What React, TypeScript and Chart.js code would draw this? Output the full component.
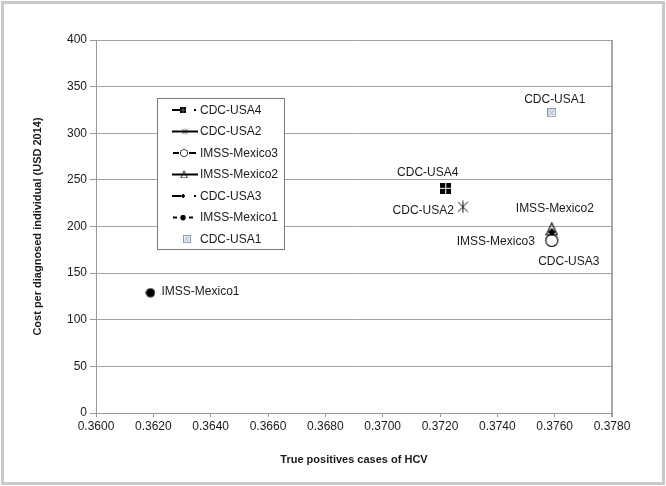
import React, { useEffect, useRef } from "react";
import { Chart, registerables } from "chart.js";

Chart.register(...registerables);

// ---- data ----
const seriesNames = ["CDC-USA4", "CDC-USA2", "IMSS-Mexico3", "IMSS-Mexico2", "CDC-USA3", "IMSS-Mexico1", "CDC-USA1"];
const truePositives = [0.3722, 0.3728, 0.3759, 0.3759, 0.3759, 0.3619, 0.3759];
const costPerDiagnosed = [241, 221, 185, 197, 194, 129, 322];
const xTickValues = [0.36, 0.362, 0.364, 0.366, 0.368, 0.37, 0.372, 0.374, 0.376, 0.378];
const xTickLabels = ["0.3600", "0.3620", "0.3640", "0.3660", "0.3680", "0.3700", "0.3720", "0.3740", "0.3760", "0.3780"];
const yTickValues = [0, 50, 100, 150, 200, 250, 300, 350, 400];
const xTitle = "True positives cases of HCV";
const yTitle = "Cost per diagnosed individual (USD 2014)";

// ---- styling ----
const FONT = "'Liberation Sans', Arial, sans-serif";
const TEXT = "#1a1a1a";
const markerKinds = ["square4", "asterisk", "openCircle", "openTriangle", "diamond", "dot", "hatchSquare"];
const drawOrder = [0, 0, 2, 1, 0, 0, 0];
const labelOffsets: { dx: number; dy: number; align: CanvasTextAlign }[] = [
  { dx: -18, dy: -16, align: "center" },
  { dx: -9, dy: 4, align: "right" },
  { dx: -17, dy: 1, align: "right" },
  { dx: 3, dy: -21, align: "center" },
  { dx: 17, dy: 30, align: "center" },
  { dx: 11, dy: -1, align: "left" },
  { dx: 3, dy: -13, align: "center" },
];

function makeMarker(kind: string): HTMLCanvasElement {
  const c = document.createElement("canvas");
  const ctx = c.getContext("2d")!;
  const setSize = (w: number, h: number) => { c.width = w; c.height = h; };
  switch (kind) {
    case "square4":
      setSize(11, 11);
      ctx.fillStyle = "#000";
      ctx.fillRect(0, 0, 11, 11);
      ctx.fillStyle = "#fff";
      ctx.fillRect(5, 0, 1, 11);
      ctx.fillRect(0, 5, 11, 1);
      break;
    case "asterisk":
      setSize(13, 13);
      ctx.strokeStyle = "#111";
      ctx.lineWidth = 1;
      ctx.beginPath();
      ctx.moveTo(1.5, 1.5); ctx.lineTo(11.5, 11.5);
      ctx.moveTo(11.5, 1.5); ctx.lineTo(1.5, 11.5);
      ctx.moveTo(6.5, 0.5); ctx.lineTo(6.5, 12.5);
      ctx.stroke();
      break;
    case "openCircle":
      setSize(15, 15);
      ctx.fillStyle = "#fff";
      ctx.strokeStyle = "#111";
      ctx.lineWidth = 1.2;
      ctx.beginPath();
      ctx.arc(7.5, 7.5, 6, 0, Math.PI * 2);
      ctx.fill();
      ctx.stroke();
      break;
    case "openTriangle":
      setSize(13, 14);
      ctx.strokeStyle = "#111";
      ctx.lineWidth = 1.2;
      ctx.beginPath();
      ctx.moveTo(6.5, 0.8);
      ctx.lineTo(12, 12.5);
      ctx.lineTo(1, 12.5);
      ctx.closePath();
      ctx.stroke();
      break;
    case "diamond":
      setSize(8, 8);
      ctx.fillStyle = "#000";
      ctx.beginPath();
      ctx.moveTo(4, 0); ctx.lineTo(8, 4); ctx.lineTo(4, 8); ctx.lineTo(0, 4);
      ctx.closePath();
      ctx.fill();
      break;
    case "dot":
      setSize(10, 10);
      ctx.fillStyle = "#000";
      ctx.beginPath();
      ctx.arc(5, 5, 4.6, 0, Math.PI * 2);
      ctx.fill();
      break;
    case "hatchSquare":
    default:
      setSize(9, 9);
      ctx.fillStyle = "#eef2f8";
      ctx.fillRect(0, 0, 9, 9);
      ctx.strokeStyle = "#8799b3";
      ctx.lineWidth = 1;
      ctx.strokeRect(0.5, 0.5, 8, 8);
      ctx.beginPath();
      ctx.moveTo(2, 7); ctx.lineTo(7, 2);
      ctx.moveTo(2, 4); ctx.lineTo(4, 2);
      ctx.moveTo(5, 7); ctx.lineTo(7, 5);
      ctx.stroke();
      break;
  }
  return c;
}

// legend line segments per entry: [x0, x1] relative to legend sample start
const legendSegments: number[][][] = [
  [[0, 9], [22, 24]],
  [[0, 26]],
  [[1, 7], [17, 24]],
  [[0, 26]],
  [[0, 9], [22, 24]],
  [[1, 5], [17, 21]],
  [],
];
const legendMarkerX = [11, 13, 12, 12, 11, 11, 15];

export default function App() {
  const ref = useRef<HTMLCanvasElement>(null);
  useEffect(() => {
    if (!ref.current) return;
    const markers = markerKinds.map(makeMarker);

    const decor = {
      id: "decor",
      beforeDraw(chart: any) {
        const { ctx, width, height } = chart;
        ctx.save();
        ctx.fillStyle = "#fff";
        ctx.fillRect(0, 0, width, height);
        ctx.strokeStyle = "#c9c9c9";
        ctx.lineWidth = 3;
        ctx.strokeRect(2.5, 2.5, width - 5, height - 5);
        ctx.restore();
      },
      afterDatasetsDraw(chart: any) {
        const { ctx, chartArea } = chart;
        ctx.save();
        // right frame of plot area
        ctx.strokeStyle = "#8c8c8c";
        ctx.lineWidth = 1.5;
        ctx.beginPath();
        ctx.moveTo(chartArea.right, chartArea.top);
        ctx.lineTo(chartArea.right, chartArea.bottom + 4);
        ctx.stroke();
        // data labels
        ctx.font = `12px ${FONT}`;
        ctx.fillStyle = TEXT;
        ctx.textBaseline = "middle";
        seriesNames.forEach((name, i) => {
          const el = chart.getDatasetMeta(i).data[0];
          if (!el) return;
          const o = labelOffsets[i];
          ctx.textAlign = o.align;
          ctx.fillText(name, el.x + o.dx, el.y + o.dy);
        });
        ctx.restore();
      },
      afterDraw(chart: any) {
        const { ctx } = chart;
        ctx.save();
        const bx = 157, by = 98, bw = 127, bh = 151;
        ctx.fillStyle = "#fff";
        ctx.fillRect(bx, by, bw, bh);
        ctx.strokeStyle = "#7a7a7a";
        ctx.lineWidth = 1;
        ctx.strokeRect(bx + 0.5, by + 0.5, bw, bh);
        ctx.font = `12px ${FONT}`;
        ctx.textBaseline = "middle";
        ctx.textAlign = "left";
        seriesNames.forEach((name, i) => {
          const cy = 110 + i * 21.5;
          const sx = 172;
          ctx.strokeStyle = "#000";
          ctx.lineWidth = 2;
          legendSegments[i].forEach(([a, b]) => {
            ctx.beginPath();
            ctx.moveTo(sx + a, cy);
            ctx.lineTo(sx + b, cy);
            ctx.stroke();
          });
          const m = markers[i];
          const s = i === 6 ? 0.9 : 0.6;
          const w = m.width * s, h = m.height * s;
          ctx.drawImage(m, sx + legendMarkerX[i] - w / 2, cy - h / 2, w, h);
          ctx.fillStyle = TEXT;
          ctx.fillText(name, 200, cy + 0.5);
        });
        ctx.restore();
      },
    };

    const chart = new Chart(ref.current, {
      type: "scatter",
      data: {
        datasets: seriesNames.map((name, i) => ({
          label: name,
          data: [{ x: truePositives[i], y: costPerDiagnosed[i] }],
          pointStyle: markers[i],
          order: drawOrder[i],
          backgroundColor: "#000",
          borderColor: "#000",
        })),
      },
      options: {
        responsive: false,
        animation: false,
        events: [],
        layout: { padding: { left: 0, top: 40, right: 54, bottom: 0 } },
        plugins: { legend: { display: false }, tooltip: { enabled: false } },
        scales: {
          x: {
            type: "linear",
            min: 0.36,
            max: 0.378,
            afterBuildTicks: (scale: any) => {
              scale.ticks = xTickValues.map((v) => ({ value: v }));
            },
            afterFit: (scale: any) => {
              scale.height = 73;
            },
            ticks: {
              callback: (_v: any, i: number) => xTickLabels[i],
              font: { family: FONT, size: 12 },
              color: TEXT,
              padding: 2,
              maxRotation: 0,
              autoSkip: false,
            },
            grid: { drawOnChartArea: false, drawTicks: true, tickLength: 4, color: "#9a9a9a" },
            border: { display: true, color: "#9a9a9a", width: 1 },
            title: {
              display: true,
              text: xTitle,
              font: { family: FONT, size: 11, weight: "bold" },
              color: TEXT,
              padding: { top: 0, bottom: 19 },
            },
          },
          y: {
            type: "linear",
            min: 0,
            max: 400,
            afterBuildTicks: (scale: any) => {
              scale.ticks = yTickValues.map((v) => ({ value: v }));
            },
            afterFit: (scale: any) => {
              scale.width = 96;
            },
            ticks: {
              font: { family: FONT, size: 12 },
              color: TEXT,
              padding: 3,
            },
            grid: { color: "#a3a3a3", tickLength: 6, tickColor: "#9a9a9a", lineWidth: 1 },
            border: { display: true, color: "#9a9a9a", width: 1 },
            title: {
              display: true,
              text: yTitle,
              font: { family: FONT, size: 11, weight: "bold" },
              color: TEXT,
              padding: { top: 31, bottom: 0 },
            },
          },
        },
      },
      plugins: [decor],
    } as any);
    return () => chart.destroy();
  }, []);

  return (
    <div style={{ position: "absolute", left: 0, top: 0, width: 666, height: 486 }}>
      <canvas ref={ref} width={666} height={486} style={{ display: "block" }} />
    </div>
  );
}
